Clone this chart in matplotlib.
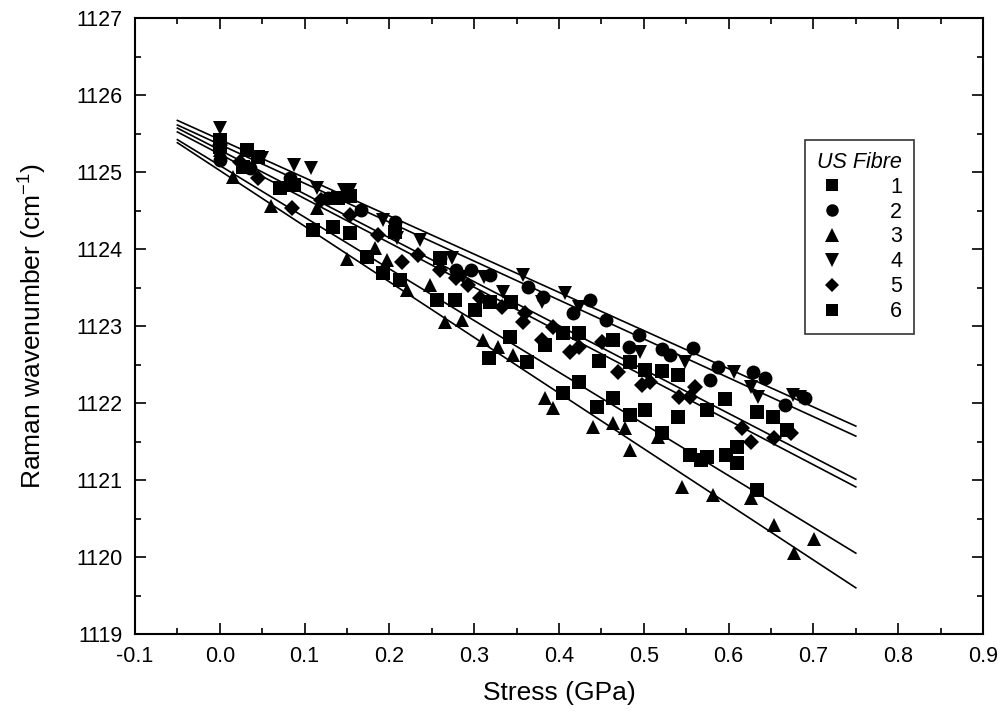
import matplotlib
matplotlib.use("Agg")
import matplotlib.pyplot as plt
from matplotlib.ticker import MultipleLocator, FormatStrFormatter

plt.rcParams['font.family'] = ['Liberation Sans', 'DejaVu Sans']

# ---------------- data ----------------
series_labels = ["1", "2", "3", "4", "5", "6"]
series_markers = ["s", "o", "^", "v", "D", "s"]

s1_x = [0.000, 0.032, 0.045, 0.087, 0.139, 0.154, 0.207, 0.260, 0.319, 0.343, 0.384, 0.405,
        0.423, 0.447, 0.464, 0.484, 0.502, 0.522, 0.540, 0.574, 0.596, 0.634, 0.652, 0.669]
s1_y = [1125.42, 1125.29, 1125.19, 1124.83, 1124.66, 1124.69, 1124.22, 1123.88, 1123.31, 1123.31,
        1122.75, 1122.91, 1122.91, 1122.55, 1122.82, 1122.53, 1122.43, 1122.42, 1122.36, 1121.91,
        1122.05, 1121.88, 1121.82, 1121.65]

s2_x = [0.000, 0.036, 0.083, 0.128, 0.166, 0.207, 0.260, 0.278, 0.296, 0.319, 0.363, 0.381, 0.417,
        0.437, 0.455, 0.482, 0.494, 0.522, 0.531, 0.558, 0.578, 0.588, 0.629, 0.643, 0.667, 0.690]
s2_y = [1125.16, 1125.05, 1124.92, 1124.66, 1124.51, 1124.35, 1123.88, 1123.73, 1123.73, 1123.66,
        1123.51, 1123.38, 1123.17, 1123.34, 1123.08, 1122.73, 1122.88, 1122.70, 1122.62, 1122.71,
        1122.30, 1122.47, 1122.40, 1122.32, 1121.97, 1122.06]

s3_x = [0.000, 0.016, 0.060, 0.115, 0.150, 0.183, 0.197, 0.221, 0.248, 0.266, 0.286, 0.310, 0.328,
        0.346, 0.384, 0.393, 0.440, 0.464, 0.478, 0.484, 0.517, 0.545, 0.582, 0.626, 0.653, 0.677, 0.701]
s3_y = [1125.29, 1124.94, 1124.56, 1124.53, 1123.87, 1124.01, 1123.86, 1123.47, 1123.53, 1123.05,
        1123.08, 1122.82, 1122.73, 1122.62, 1122.06, 1121.94, 1121.69, 1121.74, 1121.68, 1121.39,
        1121.56, 1120.91, 1120.81, 1120.77, 1120.42, 1120.05, 1120.23]

s4_x = [0.000, 0.050, 0.087, 0.107, 0.115, 0.146, 0.154, 0.193, 0.209, 0.236, 0.274, 0.287, 0.311,
        0.334, 0.357, 0.380, 0.407, 0.423, 0.496, 0.549, 0.606, 0.626, 0.635, 0.676, 0.684]
s4_y = [1125.57, 1125.18, 1125.09, 1125.05, 1124.79, 1124.77, 1124.77, 1124.38, 1124.14, 1124.12,
        1123.88, 1123.64, 1123.64, 1123.44, 1123.66, 1123.31, 1123.43, 1123.25, 1122.66, 1122.53,
        1122.40, 1122.21, 1122.08, 1122.10, 1122.08]

s5_x = [0.000, 0.024, 0.045, 0.085, 0.119, 0.154, 0.186, 0.215, 0.234, 0.260, 0.278, 0.293, 0.307,
        0.333, 0.358, 0.360, 0.380, 0.393, 0.413, 0.423, 0.451, 0.470, 0.498, 0.507, 0.541, 0.555,
        0.560, 0.616, 0.626, 0.653, 0.673]
s5_y = [1125.35, 1125.13, 1124.92, 1124.53, 1124.64, 1124.44, 1124.18, 1123.83, 1123.92, 1123.73,
        1123.62, 1123.53, 1123.36, 1123.25, 1123.05, 1123.17, 1122.82, 1122.99, 1122.66, 1122.73,
        1122.79, 1122.40, 1122.23, 1122.27, 1122.08, 1122.08, 1122.21, 1121.68, 1121.49, 1121.55,
        1121.61]

s6_x = [0.000, 0.027, 0.071, 0.110, 0.134, 0.154, 0.174, 0.193, 0.213, 0.256, 0.277, 0.301, 0.318,
        0.342, 0.362, 0.405, 0.423, 0.445, 0.464, 0.484, 0.502, 0.522, 0.540, 0.555, 0.567, 0.574,
        0.597, 0.610, 0.610, 0.634]
s6_y = [1125.32, 1125.06, 1124.79, 1124.25, 1124.29, 1124.21, 1123.90, 1123.69, 1123.60, 1123.34,
        1123.34, 1123.21, 1122.58, 1122.86, 1122.53, 1122.13, 1122.27, 1121.95, 1122.06, 1121.84,
        1121.91, 1121.61, 1121.82, 1121.32, 1121.26, 1121.30, 1121.32, 1121.43, 1121.22, 1120.87]

# fitted lines: value at the line start and end
fit_x = [-0.05, 0.75]
fit_start = [1125.57, 1125.67, 1125.38, 1125.61, 1125.52, 1125.42]
fit_end = [1121.01, 1121.70, 1119.60, 1121.57, 1120.91, 1120.05]

xs = [s1_x, s2_x, s3_x, s4_x, s5_x, s6_x]
ys = [s1_y, s2_y, s3_y, s4_y, s5_y, s6_y]

# ---------------- figure ----------------
fig = plt.figure(figsize=(10.02, 7.22), dpi=100)
ax = fig.add_axes([135 / 1002, 88 / 722, 848 / 1002, 616 / 722])

marker_sizes = {"s": 9.5, "o": 10, "^": 10.5, "v": 10.5, "D": 8}
handles = []
for i in range(6):
    ax.plot(fit_x, [fit_start[i], fit_end[i]], color="black", lw=1.2, zorder=2)
    h, = ax.plot(xs[i], ys[i], linestyle="none", marker=series_markers[i],
                 ms=marker_sizes[series_markers[i]], color="black", mec="black",
                 mew=0, zorder=3, label=series_labels[i])
    handles.append(h)

ax.set_xlim(-0.1, 0.9)
ax.set_ylim(1119, 1127)
ax.xaxis.set_major_locator(MultipleLocator(0.1))
ax.xaxis.set_minor_locator(MultipleLocator(0.05))
ax.yaxis.set_major_locator(MultipleLocator(1))
ax.yaxis.set_minor_locator(MultipleLocator(0.5))
ax.xaxis.set_major_formatter(FormatStrFormatter("%.1f"))
ax.yaxis.set_major_formatter(FormatStrFormatter("%d"))

ax.tick_params(which="both", direction="in", top=True, right=True, width=1.2, colors="black")
ax.tick_params(which="major", length=8, labelsize=15.5, pad=9)
ax.tick_params(which="minor", length=4.5)
for sp in ax.spines.values():
    sp.set_linewidth(1.5)

ax.set_xlabel("Stress (GPa)", fontsize=19, labelpad=10)
ax.set_ylabel("Raman wavenumber (cm$^{\\mathregular{-1}}$)", fontsize=19, labelpad=20)

leg = ax.legend(handles=handles, title="US Fibre", loc="upper left",
                bbox_to_anchor=(805 / 1002, 1 - 140 / 722), bbox_transform=fig.transFigure,
                frameon=True, fancybox=False, edgecolor="black", fontsize=15.5,
                title_fontsize=15.5, handlelength=1.4, handletextpad=2.0,
                labelspacing=0.18, borderpad=0.55, borderaxespad=0, markerscale=0.9)
leg.get_title().set_fontstyle("italic")
leg.get_frame().set_linewidth(1.2)

fig.savefig("out.png", dpi=100)
